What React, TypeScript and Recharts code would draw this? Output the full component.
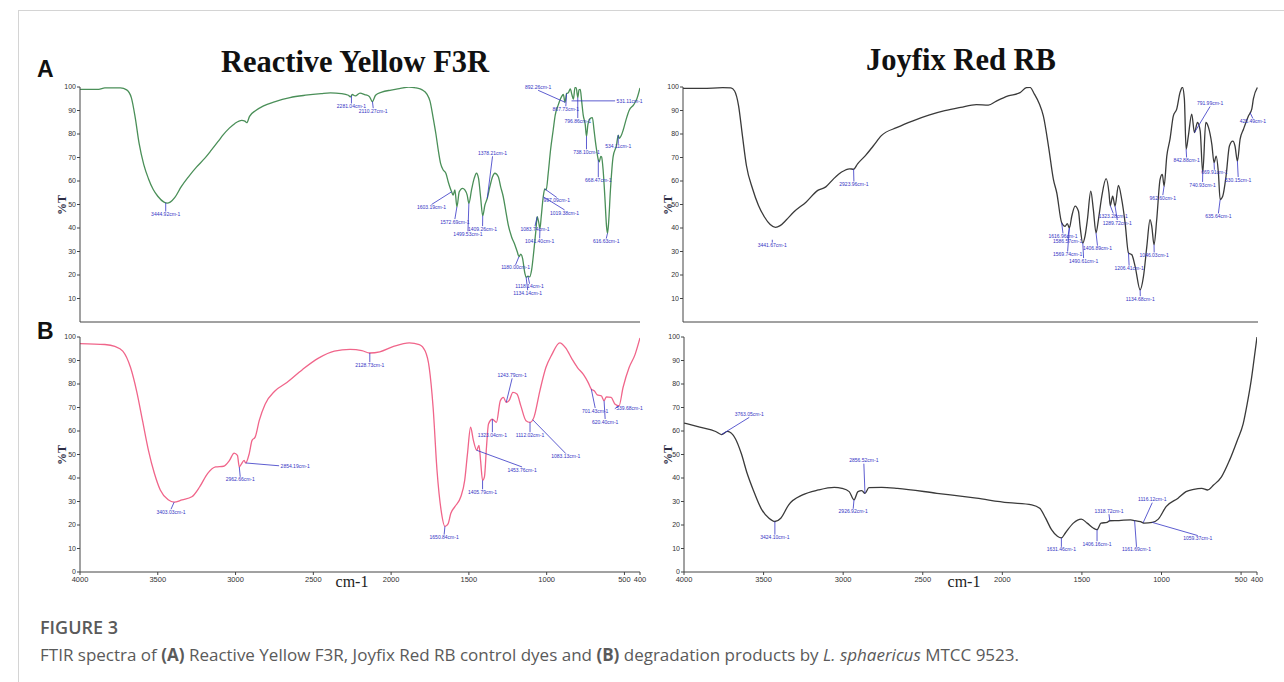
import { LineChart, Line, XAxis, YAxis, ReferenceLine, ReferenceDot } from 'recharts';

type Pt = [number, number];
// [peak wavenumber, peak %T, label wavenumber, label %T, text]
type Note = [number, number, number, number, string];

const X_TICKS = [4000, 3500, 3000, 2500, 2000, 1500, 1000, 500, 400];
const Y_TICKS_TOP = [10, 20, 30, 40, 50, 60, 70, 80, 90, 100];
const Y_TICKS_BOTTOM = [0, 10, 20, 30, 40, 50, 60, 70, 80, 90, 100];

// A - Reactive Yellow F3R (control)
const yellowControl: Pt[] = [
  [4000, 99], [3880, 99], [3840, 99.6], [3740, 99.6], [3700, 98.8], [3670, 95.5], [3645, 87], [3620, 76],
  [3590, 67], [3560, 61], [3530, 56.5], [3500, 53.5], [3460, 51], [3440, 50.6], [3420, 51], [3390, 53],
  [3350, 57.5], [3300, 62], [3250, 66], [3200, 69.5], [3157, 73], [3110, 77], [3080, 79.6], [3040, 82.5],
  [3004, 84.5], [2960, 85.8], [2940, 85.5], [2928, 84.8], [2910, 87.5], [2870, 90], [2820, 92], [2750, 93.7],
  [2650, 95.5], [2550, 96.5], [2450, 97.2], [2390, 97.5], [2320, 97.2], [2275, 96.5], [2262, 95.8], [2250, 96.8],
  [2230, 96.2], [2200, 97.4], [2170, 96.8], [2140, 96], [2120, 93.8], [2100, 96.5], [2060, 97.8], [2000, 98.7],
  [1940, 99.4], [1887, 100], [1840, 99.6], [1800, 98.8], [1770, 97], [1750, 94], [1730, 87], [1712, 80],
  [1697, 73.2], [1682, 67.5], [1665, 64.7], [1648, 63.3], [1633, 59.7], [1611, 55.4], [1601, 54], [1590, 56.2],
  [1577, 49], [1562, 55.4], [1541, 56.9], [1526, 56.2], [1511, 54], [1500, 50.5], [1483, 56.2], [1466, 61.1],
  [1451, 63.3], [1438, 61.1], [1425, 53.3], [1411, 45.2], [1397, 49.8], [1382, 52.6], [1365, 57.6], [1348, 61.8],
  [1333, 63.3], [1311, 61.8], [1296, 57.6], [1279, 53.3], [1262, 46.9], [1247, 41.3], [1226, 36.3], [1204, 32.8],
  [1189, 29.9], [1178, 27.8], [1166, 28.9], [1155, 27.1], [1140, 20.7], [1132, 19], [1120, 19.5], [1110, 19.2],
  [1097, 22.1], [1082, 30.6], [1069, 39.1], [1061, 44.8], [1052, 42.7], [1043, 39.8], [1035, 44.8], [1022, 53.3],
  [1012, 56.6], [1003, 56.2], [990, 63.3], [975, 73.2], [958, 81.7], [945, 88], [925, 92.5], [905, 95.8],
  [893, 96.8], [882, 93.5], [872, 97.2], [860, 97.6], [848, 99.2], [838, 96.8], [828, 94.8], [818, 99.8],
  [810, 99.6], [800, 95.5], [792, 98.8], [784, 99], [775, 94], [765, 88], [752, 84], [744, 79], [735, 84],
  [722, 86.5], [706, 87], [696, 82], [688, 77.5], [679, 73.2], [668, 69], [662, 68.2], [652, 70.5], [647, 70.3],
  [637, 64.7], [626, 53.3], [615, 40.6], [609, 37.7], [602, 42], [590, 56.2], [573, 70.3], [551, 75.3],
  [540, 79.5], [534, 78.2], [519, 79.6], [508, 81.7], [490, 86], [470, 90], [440, 92.5], [420, 95], [400, 99.6],
];

// A - Joyfix Red RB (control)
const redControl: Pt[] = [
  [4000, 99.4], [3876, 99.4], [3752, 99.7], [3700, 99.6], [3677, 98.3], [3652, 92], [3628, 79.3], [3603, 66.6],
  [3565, 56.8], [3528, 49.7], [3491, 44.8], [3454, 41.5], [3421, 40.3], [3392, 41], [3354, 43.4], [3305, 46.9],
  [3230, 51], [3156, 56], [3106, 57.5], [3056, 61], [3007, 63.8], [2957, 65.2], [2932, 65], [2907, 67.3],
  [2858, 70.8], [2808, 75], [2758, 79.3], [2659, 82.8], [2560, 85.6], [2461, 88], [2361, 89.9], [2262, 91.3],
  [2163, 92.5], [2088, 92.3], [2038, 94], [1964, 96.2], [1890, 97.6], [1850, 99.7], [1827, 99.8], [1800, 97],
  [1770, 93], [1744, 87.7], [1710, 74], [1681, 60.7], [1660, 55], [1629, 42.2], [1608, 40.7], [1594, 41.9],
  [1581, 40], [1566, 45], [1545, 49.3], [1524, 47.1], [1514, 40.7], [1497, 33.6], [1483, 36.5], [1468, 43.6],
  [1447, 55.7], [1431, 47.9], [1414, 37.9], [1399, 43.6], [1378, 53.5], [1351, 61], [1333, 55], [1325, 49.5],
  [1310, 53.5], [1295, 49.3], [1274, 58.1], [1253, 52.1], [1232, 42.2], [1211, 29.4], [1190, 28.6], [1169, 23.6],
  [1138, 13.7], [1117, 19.4], [1096, 32.2], [1076, 43.6], [1065, 40.7], [1051, 32.9], [1034, 43.6], [1013, 60.7],
  [999, 62.8], [988, 57.8], [971, 70.6], [951, 77.8], [930, 87.7], [909, 90.6], [888, 97.7], [873, 99.9],
  [861, 94.9], [850, 73.5], [836, 79.2], [815, 88.5], [798, 80.6], [779, 84.9], [762, 81.3], [746, 63.5],
  [727, 84.9], [710, 82.8], [689, 75.6], [675, 67.8], [662, 70.6], [648, 63.5], [637, 52.1], [621, 53.5],
  [600, 62.1], [579, 74.9], [558, 77], [544, 74.9], [529, 68.5], [512, 77.8], [491, 82], [460, 87.7],
  [439, 90.6], [429, 94.9], [404, 99.8],
];

// B - Reactive Yellow F3R degradation products
const yellowDegraded: Pt[] = [
  [4000, 97.2], [3840, 96.8], [3776, 96], [3725, 94], [3675, 87], [3636, 77], [3598, 64.4], [3560, 51.8],
  [3522, 42], [3484, 34.9], [3433, 30.7], [3395, 29.7], [3344, 30.7], [3281, 32], [3230, 36.3], [3179, 42],
  [3128, 44.7], [3077, 45], [3039, 47.5], [3009, 50.6], [2988, 49.6], [2976, 44.7], [2963, 45.9], [2945, 47.5],
  [2935, 46.4], [2912, 50.4], [2894, 56], [2874, 57.4], [2848, 64.4], [2810, 71.4], [2747, 77], [2670, 80.6],
  [2569, 86.2], [2467, 91], [2365, 94], [2264, 94.7], [2188, 94.2], [2137, 93.2], [2073, 93.7], [1984, 96],
  [1883, 97.5], [1819, 96.8], [1781, 94], [1755, 87], [1730, 70], [1705, 43.3], [1679, 26.4], [1654, 19.4],
  [1634, 20.5], [1616, 25], [1590, 27.8], [1552, 32], [1527, 39], [1509, 50.4], [1489, 61.6], [1471, 56],
  [1450, 51.8], [1435, 53.9], [1425, 47.5], [1412, 39], [1400, 40.5], [1387, 53], [1374, 63], [1349, 65],
  [1323, 63.7], [1298, 72.9], [1278, 74.3], [1260, 72.2], [1242, 72.9], [1217, 76.4], [1191, 75.7], [1166, 70.7],
  [1133, 64.4], [1107, 63.7], [1082, 65.8], [1044, 77], [1005, 87], [967, 92.5], [916, 97.5], [878, 95.4],
  [835, 90.4], [802, 87], [764, 84.1], [733, 80.6], [713, 77.8], [693, 77], [675, 75.4], [649, 75], [631, 72.9],
  [616, 74.5], [586, 74.3], [560, 71.4], [535, 70.7], [509, 78.5], [470, 87], [432, 92.5], [400, 99.6],
];

// B - Joyfix Red RB degradation products
const redDegraded: Pt[] = [
  [4000, 63.4], [3901, 61.6], [3801, 59.8], [3764, 58.5], [3727, 59.8], [3677, 56.7], [3640, 50.4], [3603, 41.9],
  [3565, 34.9], [3516, 27.1], [3466, 22.9], [3429, 21.5], [3392, 22.9], [3342, 28.6], [3255, 32.8], [3156, 34.9],
  [3056, 36], [3007, 35.6], [2962, 34.2], [2932, 30.7], [2907, 34.2], [2883, 34.6], [2863, 33.5], [2838, 35.9],
  [2758, 36], [2659, 35.6], [2411, 33.5], [2163, 31.4], [1964, 29.5], [1815, 28.6], [1765, 27.1], [1728, 22.9],
  [1691, 18], [1654, 15.2], [1629, 14.5], [1604, 16.6], [1554, 20.8], [1504, 22.5], [1467, 20.8], [1429, 18.7],
  [1405, 18], [1380, 20.8], [1342, 21.1], [1325, 21.8], [1267, 21.9], [1194, 22.2], [1169, 21.9], [1132, 21.4],
  [1107, 20.8], [1058, 21.1], [1020, 22.5], [971, 27.8], [896, 31.4], [846, 34.2], [797, 35.2], [747, 35.6],
  [710, 34.9], [673, 37], [623, 40.5], [573, 47.5], [524, 56], [487, 63], [462, 71.4], [437, 81.3], [420, 89.7],
  [400, 100],
];

const yellowControlNotes: Note[] = [
  [3449, 50.8, 3449, 47, '3444.92cm-1'],
  [2255, 96.3, 2255, 93, '2281.04cm-1'],
  [2120, 93.8, 2115, 91, '2110.27cm-1'],
  [1611, 55.4, 1740, 50, '1603.19cm-1'],
  [1577, 49, 1590, 43.8, '1572.69cm-1'],
  [1500, 50.5, 1506, 38.6, '1499.53cm-1'],
  [1411, 45.2, 1412, 40.8, '1409.26cm-1'],
  [1382, 52.6, 1348, 70.5, '1378.21cm-1'],
  [1178, 27.8, 1200, 24.3, '1180.00cm-1'],
  [1120, 19.5, 1110, 16.3, '1118.14cm-1'],
  [1132, 19, 1122, 13.5, '1134.14cm-1'],
  [1061, 44.8, 1075, 40.8, '1083.74cm-1'],
  [1043, 39.8, 1045, 35.6, '1041.40cm-1'],
  [1012, 56.6, 935, 53, '997.09cm-1'],
  [1022, 53.3, 885, 47.7, '1019.38cm-1'],
  [882, 93.5, 1055, 98.6, '892.26cm-1'],
  [872, 97.2, 877, 91.8, '867.73cm-1'],
  [800, 95.5, 800, 86.8, '796.86cm-1'],
  [744, 79, 744, 73.5, '738.10cm-1'],
  [540, 79.5, 540, 75.8, '534.11cm-1'],
  [609, 37.7, 617, 35.5, '616.63cm-1'],
  [840, 94.1, 560, 94.1, '531.11cm-1'],
  [668, 69, 668, 61.6, '668.47cm-1'],
];

const redControlNotes: Note[] = [
  [3441, 35, 3441, 33.8, '3441.67cm-1'],
  [2932, 65, 2930, 59.8, '2923.96cm-1'],
  [1629, 42.2, 1621, 37.7, '1616.96cm-1'],
  [1581, 40, 1592, 35.6, '1586.57cm-1'],
  [1581, 40, 1592, 30, '1569.74cm-1'],
  [1497, 33.6, 1492, 27.2, '1490.61cm-1'],
  [1414, 37.9, 1405, 32.5, '1406.89cm-1'],
  [1325, 49.5, 1306, 46.2, '1323.28cm-1'],
  [1295, 49.3, 1281, 43.4, '1289.72cm-1'],
  [1211, 29.4, 1207, 24, '1206.41cm-1'],
  [1138, 13.7, 1137, 11, '1134.68cm-1'],
  [1051, 32.9, 1050, 29.6, '1046.03cm-1'],
  [988, 57.8, 996, 54, '962.60cm-1'],
  [850, 73.5, 847, 70, '842.88cm-1'],
  [798, 80.6, 700, 91.7, '791.99cm-1'],
  [675, 67.8, 673, 64.8, '669.91cm-1'],
  [746, 63.5, 747, 59.6, '740.93cm-1'],
  [529, 68.5, 524, 61.7, '530.15cm-1'],
  [637, 52.1, 648, 46.2, '635.64cm-1'],
  [449, 89, 432, 86.6, '425.49cm-1'],
];

const yellowDegradedNotes: Note[] = [
  [3395, 29.7, 3415, 26.7, '3403.03cm-1'],
  [2976, 44.7, 2970, 40.5, '2962.66cm-1'],
  [2935, 46.4, 2720, 45.2, '2854.19cm-1'],
  [2137, 93.2, 2137, 89.3, '2128.73cm-1'],
  [1654, 19.4, 1659, 15.9, '1650.84cm-1'],
  [1412, 39, 1412, 35.2, '1405.79cm-1'],
  [1450, 51.8, 1158, 44.7, '1453.76cm-1'],
  [1349, 65, 1349, 59.5, '1323.04cm-1'],
  [1260, 72.2, 1222, 82.4, '1243.79cm-1'],
  [1107, 63.7, 1107, 59.5, '1112.02cm-1'],
  [1090, 64.8, 877, 50.4, '1083.13cm-1'],
  [713, 77.8, 688, 69.8, '701.43cm-1'],
  [631, 72.9, 624, 65.1, '620.40cm-1'],
  [535, 70.7, 562, 69.5, '539.68cm-1'],
];

const redDegradedNotes: Note[] = [
  [3764, 58.5, 3590, 65.8, '3763.05cm-1'],
  [3429, 21.5, 3429, 15.9, '3424.10cm-1'],
  [2932, 30.7, 2937, 26.9, '2926.92cm-1'],
  [2863, 33.5, 2870, 46.1, '2856.52cm-1'],
  [1629, 14.5, 1629, 10.7, '1631.46cm-1'],
  [1405, 18, 1405, 13.1, '1406.16cm-1'],
  [1325, 21.8, 1330, 24.6, '1318.72cm-1'],
  [1169, 21.9, 1157, 10.7, '1161.69cm-1'],
  [1115, 21, 1058, 29.5, '1116.12cm-1'],
  [1058, 21.1, 772, 15.5, '1059.37cm-1'],
];

const NOTE_COLOR = '#3434c4';

function NoteText(props: any) {
  const { cx, cy, text, mode } = props;
  if (cx == null || cy == null) return null;
  const x = mode === 'side' ? cx + 1.5 : cx;
  const y = mode === 'above' ? cy - 1.5 : mode === 'below' ? cy + 4.6 : cy + 1.8;
  return (
    <text x={x} y={y} fontSize={5} fill={NOTE_COLOR} textAnchor={mode === 'side' ? 'start' : 'middle'}
      fontFamily="'Liberation Sans', Arial, sans-serif">
      {text}
    </text>
  );
}

function Spectrum({ points, color, notes, yTicks, showX, left, top, width, height }: any) {
  const data = points.map(([wn, t]: Pt) => ({ wn, t }));
  return (
    <div style={{ position: 'absolute', left, top }}>
      <LineChart width={width} height={height} data={data} margin={{ top: 10, right: 10, left: 10, bottom: 0 }}>
        <XAxis
          type="number"
          dataKey="wn"
          domain={[400, 4000]}
          reversed
          allowDataOverflow
          ticks={X_TICKS}
          interval={0}
          tick={showX ? { fontSize: 7.5, fill: '#333', fontFamily: "'Liberation Sans', Arial" } : false}
          tickSize={3}
          stroke="#444"
          height={showX ? 20 : 4}
        />
        <YAxis
          type="number"
          domain={[0, 100]}
          allowDataOverflow
          ticks={yTicks}
          interval={0}
          tick={{ fontSize: 7, fill: '#333', fontFamily: "'Liberation Sans', Arial" }}
          tickSize={3}
          tickMargin={1}
          width={30}
          stroke="#444"
        />
        <Line type="monotone" dataKey="t" stroke={color} strokeWidth={1.3} dot={false} isAnimationActive={false} />
        {notes.map(([wn, t, lw, lt, text]: Note, i: number) => {
          const dy = lt - t;
          const mode = Math.abs(dy) < 1.5 && Math.abs(lw - wn) > 10 ? 'side' : dy > 0 ? 'above' : 'below';
          return [
            <ReferenceLine key={'l' + i} segment={[{ x: wn, y: t }, { x: lw, y: lt }]} stroke={NOTE_COLOR} strokeWidth={0.8} />,
            <ReferenceDot key={'d' + i} x={lw} y={lt} r={1} shape={(p: any) => <NoteText {...p} text={text} mode={mode} />} />,
          ];
        })}
      </LineChart>
    </div>
  );
}

const serif = "'Liberation Serif', 'Times New Roman', serif";
const sans = "'Liberation Sans', Arial, sans-serif";

function YLabel({ x, y }: { x: number; y: number }) {
  return (
    <div style={{ position: 'absolute', left: x - 15, top: y - 7, width: 30, height: 14, lineHeight: '14px', textAlign: 'center',
      transform: 'rotate(-90deg)', fontFamily: serif, fontWeight: 700, fontSize: 12, color: '#2d2d44' }}>%T</div>
  );
}

function XLabel({ x, y }: { x: number; y: number }) {
  return (
    <div style={{ position: 'absolute', left: x - 30, top: y - 9, width: 60, lineHeight: '18px', textAlign: 'center',
      fontFamily: serif, fontSize: 16, color: '#222' }}>cm-1</div>
  );
}

export default function App() {
  return (
    <div style={{ position: 'absolute', left: 0, top: 0, width: 1284, height: 682, background: '#fff', overflow: 'hidden' }}>
      <div style={{ position: 'absolute', left: 18, top: 10, width: 1300, height: 700, borderTop: '1px solid #d4d4d4', borderLeft: '1px solid #d4d4d4' }} />

      <div style={{ position: 'absolute', left: 37, top: 58, fontFamily: sans, fontWeight: 700, fontSize: 23, lineHeight: '23px', color: '#111' }}>A</div>
      <div style={{ position: 'absolute', left: 37, top: 320, fontFamily: sans, fontWeight: 700, fontSize: 23, lineHeight: '23px', color: '#111' }}>B</div>

      <div style={{ position: 'absolute', left: 155, top: 46, width: 400, textAlign: 'center', fontFamily: serif, fontWeight: 700, fontSize: 30.5, lineHeight: '32px', color: '#111' }}>
        Reactive Yellow F3R
      </div>
      <div style={{ position: 'absolute', left: 761, top: 44, width: 400, textAlign: 'center', fontFamily: serif, fontWeight: 700, fontSize: 30.5, lineHeight: '32px', color: '#111' }}>
        Joyfix Red RB
      </div>

      <Spectrum points={yellowControl} color="#4a8f58" notes={yellowControlNotes} yTicks={Y_TICKS_TOP} showX={false} left={40} top={77} width={610} height={249} />
      <Spectrum points={redControl} color="#3a3a3a" notes={redControlNotes} yTicks={Y_TICKS_TOP} showX={false} left={643} top={77} width={625} height={249} />
      <Spectrum points={yellowDegraded} color="#f0658a" notes={yellowDegradedNotes} yTicks={Y_TICKS_BOTTOM} showX left={40} top={327} width={610} height={265} />
      <Spectrum points={redDegraded} color="#3a3a3a" notes={redDegradedNotes} yTicks={Y_TICKS_BOTTOM} showX left={644} top={327} width={623} height={265} />

      <YLabel x={62} y={205} />
      <YLabel x={668} y={205} />
      <YLabel x={62} y={455} />
      <YLabel x={668} y={455} />
      <XLabel x={352} y={582} />
      <XLabel x={964} y={582} />

      <div style={{ position: 'absolute', left: 40, top: 615, fontFamily: "'Open Sans', sans-serif", fontWeight: 600, fontSize: 18, lineHeight: '24px', color: '#5a5a5a' }}>
        FIGURE 3
      </div>
      <div style={{ position: 'absolute', left: 40, top: 644, fontFamily: "'Open Sans', sans-serif", fontSize: 17, lineHeight: '22px', color: '#5a5a5a', whiteSpace: 'nowrap' }}>
        FTIR spectra of <b>(A)</b> Reactive Yellow F3R, Joyfix Red RB control dyes and <b>(B)</b> degradation products by <i>L. sphaericus</i> MTCC 9523.
      </div>
    </div>
  );
}
